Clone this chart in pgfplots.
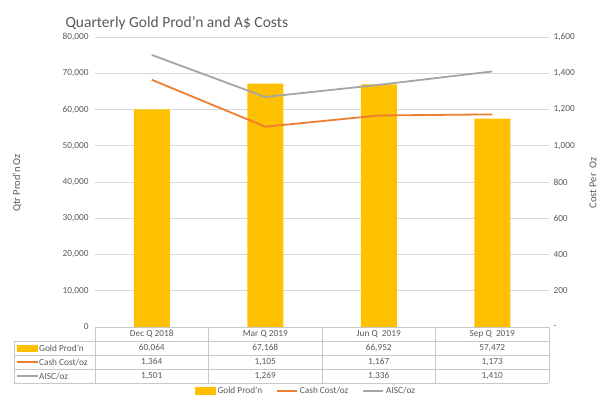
\documentclass[border=0pt]{standalone}
\usepackage{pgfplots}
\pgfplotsset{compat=1.18}
\usepackage{fontspec}
\setmainfont{Carlito}
\definecolor{gold}{HTML}{FFC000}
\definecolor{cash}{HTML}{ED7D31}
\definecolor{aisc}{HTML}{A5A5A5}
\definecolor{txt}{HTML}{595959}
\definecolor{grd}{HTML}{D9D9D9}
\definecolor{tbl}{HTML}{C8C8C8}
\begin{document}
\begin{tikzpicture}[x=1pt,y=1pt,font=\fontsize{9.3}{10}\selectfont,text=txt]
\useasboundingbox (0,0) rectangle (610,399);
\begin{axis}[at={(95pt,72pt)},anchor=south west,scale only axis,width=454pt,height=290pt,
  xmin=-0.5,xmax=3.5,ymin=0,ymax=80000,xtick=\empty,
  axis line style={draw=none},major tick length=0pt,
  ytick={0,10000,...,80000},ymajorgrids,grid style={grd,line width=0.8pt},
  axis y line*=left,scaled y ticks=false,
  yticklabel style={xshift=-3pt,/pgf/number format/fixed,/pgf/number format/1000 sep={,},/pgf/number format/assume math mode=true},
  tick label style={font=\fontsize{9.3}{10}\selectfont,text=txt},
  clip=false]
\addplot[ybar,bar width=36pt,fill=gold,draw=none] coordinates {(0,60064) (1,67168) (2,66952) (3,57472)};
\end{axis}
\begin{axis}[at={(95pt,72pt)},anchor=south west,scale only axis,width=454pt,height=290pt,
  xmin=-0.5,xmax=3.5,ymin=0,ymax=1600,xtick=\empty,
  axis line style={draw=none},major tick length=0pt,
  axis y line*=right,axis x line=none,
  ytick={0,200,...,1600},
  yticklabels={-,200,400,600,800,{1,000},{1,200},{1,400},{1,600}},
  tick label style={font=\fontsize{9.3}{10}\selectfont,text=txt},
  yticklabel style={xshift=1pt},
  legend style={at={(axis description cs:0.465,-0.221)},anchor=center,draw=none,
    legend columns=3,font=\fontsize{9.3}{10}\selectfont,text=txt,
    /tikz/every even column/.append style={column sep=12pt}},
  clip=false]
\addlegendimage{legend image code/.code={\fill[gold] (0pt,-3.5pt) rectangle (20pt,3.5pt);}}
\addlegendentry{Gold Prod'n}
\addlegendimage{legend image code/.code={\draw[cash,line width=1.8pt] (0pt,0pt) -- (20pt,0pt);}}
\addlegendentry{Cash Cost/oz}
\addlegendimage{legend image code/.code={\draw[aisc,line width=1.8pt] (0pt,0pt) -- (20pt,0pt);}}
\addlegendentry{AISC/oz}
\addplot[cash,line width=1.8pt,forget plot] coordinates {(0,1364) (1,1105) (2,1167) (3,1173)};
\addplot[aisc,line width=1.8pt,forget plot] coordinates {(0,1501) (1,1269) (2,1336) (3,1410)};
\end{axis}
% title and axis titles
\node[anchor=base west,font=\fontsize{15.5}{17}\selectfont,text=txt] at (62,371) {Quarterly Gold Prod'n and A\$ Costs};
\node[rotate=90,font=\fontsize{10.5}{12}\selectfont] at (17,216) {Qtr Prod'n Oz};
\node[rotate=90,font=\fontsize{10.5}{12}\selectfont] at (593,216) {Cost Per\ \ Oz};
% data table
\draw[tbl,line width=0.6pt] (95,72) -- (549,72);
\draw[tbl,line width=0.6pt] (14,58) -- (549,58) (14,44) -- (549,44) (14,30) -- (549,30) (14,16) -- (549,16);
\draw[tbl,line width=0.6pt] (14,58) -- (14,16) (95,72) -- (95,16) (208.5,72) -- (208.5,16)
  (322,72) -- (322,16) (435.5,72) -- (435.5,16) (549,72) -- (549,16);
\node at (151.75,65) {Dec Q 2018};
\node at (265.25,65) {Mar Q 2019};
\node at (378.75,65) {Jun Q\ \ 2019};
\node at (492.25,65) {Sep Q\ \ 2019};
\fill[gold] (17,47.5) rectangle (38,54.5);
\node[anchor=west,inner sep=1pt] at (38,51) {Gold Prod'n};
\draw[cash,line width=1.8pt] (17,37) -- (38,37);
\node[anchor=west,inner sep=1pt] at (38,37) {Cash Cost/oz};
\draw[aisc,line width=1.8pt] (17,23) -- (38,23);
\node[anchor=west,inner sep=1pt] at (38,23) {AISC/oz};
\node at (151.75,51) {60,064};
\node at (265.25,51) {67,168};
\node at (378.75,51) {66,952};
\node at (492.25,51) {57,472};
\node at (151.75,37) {1,364};
\node at (265.25,37) {1,105};
\node at (378.75,37) {1,167};
\node at (492.25,37) {1,173};
\node at (151.75,23) {1,501};
\node at (265.25,23) {1,269};
\node at (378.75,23) {1,336};
\node at (492.25,23) {1,410};
\end{tikzpicture}
\end{document}
